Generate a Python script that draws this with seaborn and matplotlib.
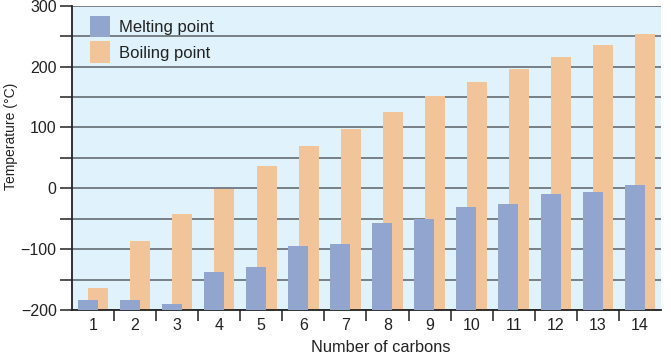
import pandas as pd
import matplotlib.pyplot as plt
import seaborn as sns
from matplotlib.ticker import MultipleLocator, FixedLocator

# Alkane data
carbons = list(range(1, 15))
melting = [-183, -184, -190, -138, -130, -95, -91, -57, -51, -30, -26, -10, -6, 5]
boiling = [-163, -87, -42, -1, 36, 69, 98, 126, 151, 174, 196, 216, 235, 254]
series_names = ["Melting point", "Boiling point"]
y_ticks = [-200, -100, 0, 100, 200, 300]
y_floor = -200

df = pd.DataFrame({
    "Number of carbons": carbons * 2,
    "Temperature": melting + boiling,
    "Series": [series_names[0]] * 14 + [series_names[1]] * 14,
})

sns.set_style("white")
plt.rcParams["font.family"] = ["Liberation Sans", "DejaVu Sans"]

fig = plt.figure(figsize=(6.71, 3.58), dpi=100)
ax = fig.add_axes([0.1073, 0.134, 0.8777, 0.8498])
ax.set_facecolor("#e0f3fc")

# overlapping bars: negative gap widens each dodged bar
sns.barplot(data=df, x="Number of carbons", y="Temperature", hue="Series",
            hue_order=series_names, palette=["#91a5cf", "#f2c49a"],
            width=0.5, gap=-0.9, dodge=True, saturation=1, linewidth=0, ax=ax)

# bars rise from the bottom of the axis, melting bars in front
for z, cont in zip([3, 2], ax.containers):
    for p in cont:
        top = p.get_y() + p.get_height()
        p.set_y(y_floor)
        p.set_height(top - y_floor)
        p.set_zorder(z)

ax.set_ylim(-200, 300)
ax.set_xlim(-0.5, 13.5)
ax.yaxis.set_major_locator(FixedLocator(y_ticks))
ax.yaxis.set_minor_locator(MultipleLocator(50))
ax.set_yticklabels([f"{t}".replace("-", "\u2212") for t in y_ticks])
ax.xaxis.set_minor_locator(FixedLocator([i + 0.5 for i in range(13)]))

ax.set_axisbelow(True)
ax.grid(axis="y", which="both", color="#5a5f66", linewidth=1.1)
ax.tick_params(axis="y", which="both", length=9, width=1.1, color="#222222",
               labelsize=11.5, pad=2, left=True, labelcolor="#222222")
ax.tick_params(axis="x", which="major", length=0, labelsize=11.5, pad=6,
               labelcolor="#222222")
ax.tick_params(axis="x", which="minor", length=8, width=1.1, color="#222222",
               bottom=True)

for s in ["top", "right"]:
    ax.spines[s].set_visible(False)
for s in ["left", "bottom"]:
    ax.spines[s].set_color("#222222")
    ax.spines[s].set_linewidth(1.3)

ax.set_xlabel("Number of carbons", fontsize=11.8, color="#222222")
ax.set_ylabel("Temperature (\u00b0C)", fontsize=10, color="#222222")
ax.xaxis.set_label_coords(0.525, -0.097)
ax.yaxis.set_label_coords(-0.092, 0.572)

ax.legend(loc="upper left", frameon=False, fontsize=12, labelcolor="#222222",
          handlelength=1.25, handleheight=1.6, handletextpad=0.5,
          labelspacing=0.25, borderaxespad=0.2, bbox_to_anchor=(0.013, 1.0))

plt.savefig("out.png", dpi=100)
